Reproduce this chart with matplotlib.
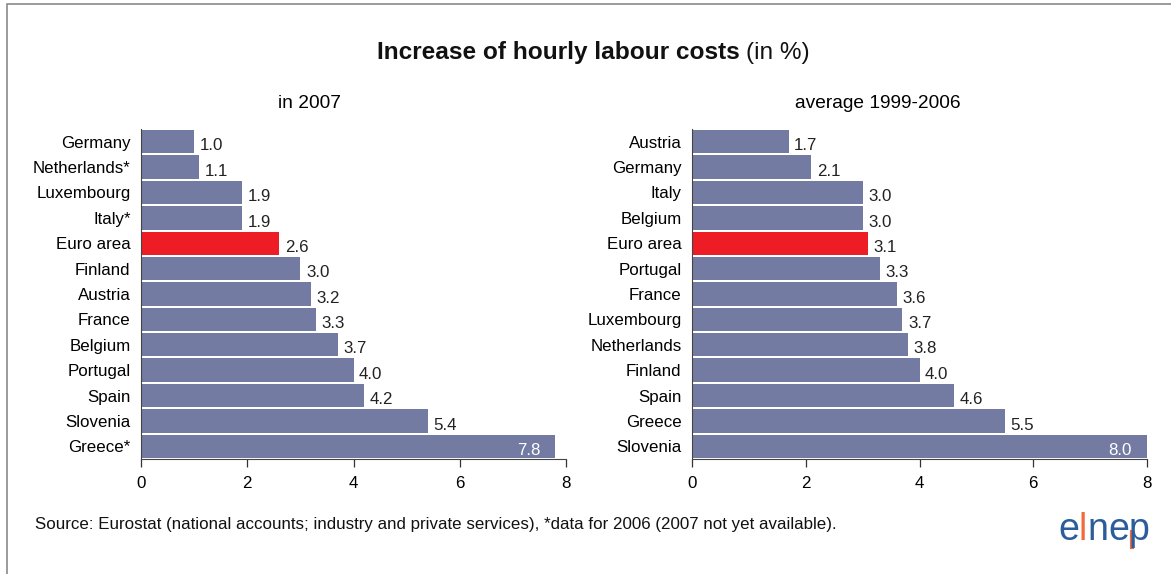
import matplotlib.pyplot as plt
from matplotlib.patches import Rectangle
from matplotlib.lines import Line2D

plt.rcParams['font.family'] = ['Liberation Sans', 'DejaVu Sans']

# hourly labour cost increase, %
countries_2007 = ['Germany', 'Netherlands*', 'Luxembourg', 'Italy*', 'Euro area', 'Finland',
                  'Austria', 'France', 'Belgium', 'Portugal', 'Spain', 'Slovenia', 'Greece*']
values_2007 = [1.0, 1.1, 1.9, 1.9, 2.6, 3.0, 3.2, 3.3, 3.7, 4.0, 4.2, 5.4, 7.8]

countries_avg = ['Austria', 'Germany', 'Italy', 'Belgium', 'Euro area', 'Portugal', 'France',
                 'Luxembourg', 'Netherlands', 'Finland', 'Spain', 'Greece', 'Slovenia']
values_avg = [1.7, 2.1, 3.0, 3.0, 3.1, 3.3, 3.6, 3.7, 3.8, 4.0, 4.6, 5.5, 8.0]

xticks = [0, 2, 4, 6, 8]

BLUE = '#737ba3'
RED = '#ee1c25'
FS = 12.2

fig = plt.figure(figsize=(11.71, 5.74), dpi=100)

# outer frame
fig.patches.append(Rectangle((7 / 1171, -0.05), 1.2, 1 - 4 / 574 + 0.05,
                             transform=fig.transFigure, fill=False,
                             edgecolor='#8a8a8a', linewidth=1.2))


def panel(rect, names, vals, subtitle, sub_x):
    ax = fig.add_axes(rect)
    colors = [RED if n == 'Euro area' else BLUE for n in names]
    ys = range(len(names))
    ax.barh(ys, vals, height=0.92, color=colors, edgecolor='none')
    ax.set_ylim(len(names) - 0.5, -0.5)
    ax.set_xlim(0, 8)
    ax.set_yticks(list(ys))
    ax.set_yticklabels(names, fontsize=FS)
    ax.set_xticks(xticks)
    ax.set_xticklabels([str(t) for t in xticks], fontsize=FS)
    ax.tick_params(axis='y', length=0, pad=7.5)
    ax.tick_params(axis='x', direction='out', length=6, width=0.9, color='#333333', pad=6)
    for s in ('top', 'right'):
        ax.spines[s].set_visible(False)
    ax.spines['left'].set_color('#444444')
    ax.spines['bottom'].set_color('#444444')
    for y, v in zip(ys, vals):
        if v > 7:
            ax.annotate(f'{v:.1f}', (v, y), xytext=(-11, -3), textcoords='offset points',
                        ha='right', va='center', fontsize=FS, color='white')
        else:
            ax.annotate(f'{v:.1f}', (v, y), xytext=(4, -3), textcoords='offset points',
                        ha='left', va='center', fontsize=FS, color='#222222')
    fig.text(sub_x, 1 - 103 / 574, subtitle, ha='center', va='center', fontsize=13.8)
    return ax


bottom = 1 - 459 / 574
height = 330 / 574
panel([141 / 1171, bottom, 425 / 1171, height], countries_2007, values_2007, 'in 2007', 310 / 1171)
panel([692 / 1171, bottom, 455 / 1171, height], countries_avg, values_avg, 'average 1999-2006', 878 / 1171)

# title: bold part + normal part, centred as one line
title_y = 1 - 53 / 574
t1 = fig.text(593 / 1171, title_y, 'Increase of hourly labour costs',
              ha='right', va='center', fontsize=17.6, fontweight='bold', color='#111111')
fig.canvas.draw()
bb = t1.get_window_extent()
t2 = fig.text((bb.x1 + 6) / fig.bbox.width, title_y, '(in %)',
              ha='left', va='center', fontsize=17.6, color='#111111')
fig.canvas.draw()
bb2 = t2.get_window_extent()
shift = ((bb.x0 + bb2.x1) / 2 - 593) / fig.bbox.width
t1.set_x(t1.get_position()[0] - shift)
t2.set_x(t2.get_position()[0] - shift)

fig.text(35 / 1171, 1 - 525 / 574,
         'Source: Eurostat (national accounts; industry and private services), '
         '*data for 2006 (2007 not yet available).',
         ha='left', va='center', fontsize=FS, color='#111111')

# elnep logo
LOGO_BLUE = '#2b5d9b'
LOGO_ORANGE = '#f26b3a'
logo_y = 1 - 540 / 574
x = 1058
for ch, col in zip('elnep', [LOGO_BLUE, LOGO_ORANGE, LOGO_BLUE, LOGO_BLUE, LOGO_BLUE]):
    t = fig.text(x / 1171, logo_y, ch, ha='left', va='baseline', fontsize=27, color=col)
    fig.canvas.draw()
    x = t.get_window_extent().x1
    if ch == 'p':
        pb = t.get_window_extent()
        fig.add_artist(Line2D([(pb.x0 + 3.5) / 1171] * 2,
                              [(pb.y0 + 1) / 574, (pb.y0 + 16) / 574],
                              transform=fig.transFigure, color=LOGO_ORANGE, linewidth=3))

fig.savefig('out.png', dpi=100)
